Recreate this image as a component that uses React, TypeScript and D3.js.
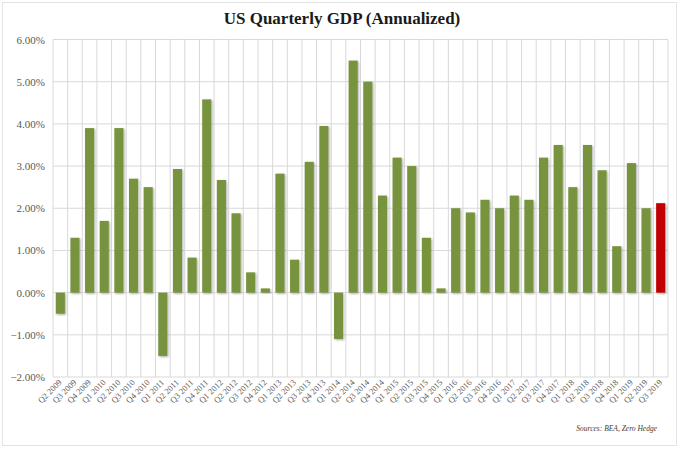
import React from "react";
import * as d3 from "d3";

const quarters: string[] = [
  "Q2 2009", "Q3 2009", "Q4 2009",
  "Q1 2010", "Q2 2010", "Q3 2010", "Q4 2010",
  "Q1 2011", "Q2 2011", "Q3 2011", "Q4 2011",
  "Q1 2012", "Q2 2012", "Q3 2012", "Q4 2012",
  "Q1 2013", "Q2 2013", "Q3 2013", "Q4 2013",
  "Q1 2014", "Q2 2014", "Q3 2014", "Q4 2014",
  "Q1 2015", "Q2 2015", "Q3 2015", "Q4 2015",
  "Q1 2016", "Q2 2016", "Q3 2016", "Q4 2016",
  "Q1 2017", "Q2 2017", "Q3 2017", "Q4 2017",
  "Q1 2018", "Q2 2018", "Q3 2018", "Q4 2018",
  "Q1 2019", "Q2 2019", "Q3 2019",
];

const gdp: number[] = [
  -0.5, 1.3, 3.9,
  1.7, 3.9, 2.7, 2.5,
  -1.5, 2.93, 0.83, 4.58,
  2.67, 1.88, 0.48, 0.1,
  2.82, 0.78, 3.1, 3.95,
  -1.1, 5.5, 5.0, 2.3,
  3.2, 3.0, 1.3, 0.1,
  2.0, 1.9, 2.2, 2.0,
  2.3, 2.2, 3.2, 3.5,
  2.5, 3.5, 2.9, 1.1,
  3.07, 2.0, 2.12,
];

const yTicks: number[] = [6, 5, 4, 3, 2, 1, 0, -1, -2];

const title = "US Quarterly GDP (Annualized)";
const source = "Sources: BEA, Zero Hedge";

const W = 680;
const H = 451;
const plot = { left: 53, right: 668, top: 39.5, bottom: 377 };
const GREEN = "#77933C";
const RED = "#C00000";
const GRID = "#D9D9D9";
const LABEL = "#595959";
const SERIF = "'Liberation Serif', 'Times New Roman', serif";

export default function App() {
  const x = d3.scaleBand<string>().domain(quarters).range([plot.left, plot.right]).padding(0);
  const y = d3.scaleLinear().domain([-2, 6]).range([plot.bottom, plot.top]);
  const bw = x.bandwidth() * 0.62;
  const fmt = d3.format(".2f");

  return (
    <svg width={W} height={H} style={{ position: "absolute", left: 0, top: 0 }}>
      <defs>
        <filter id="shadow" x="-30%" y="-10%" width="160%" height="120%">
          <feGaussianBlur in="SourceAlpha" stdDeviation="0.8" />
          <feOffset dx="1.2" dy="1.2" result="ob" />
          <feComponentTransfer>
            <feFuncA type="linear" slope="0.35" />
          </feComponentTransfer>
          <feMerge>
            <feMergeNode />
            <feMergeNode in="SourceGraphic" />
          </feMerge>
        </filter>
      </defs>
      <rect x={0} y={0} width={W} height={H} fill="#fff" />
      <rect x={2.5} y={2.5} width={674} height={443} fill="none" stroke="#E3E3E3" strokeWidth={1} />
      <text x={342} y={24} textAnchor="middle" fontFamily={SERIF} fontWeight="bold" fontSize={17} fill="#1a1a1a">
        {title}
      </text>
      {yTicks.map((t) => (
        <line key={"h" + t} x1={plot.left} x2={plot.right} y1={y(t)} y2={y(t)} stroke={GRID} strokeWidth={1} />
      ))}
      {quarters.map((q) => (
        <line key={"v" + q} x1={x(q)!} x2={x(q)!} y1={plot.top} y2={plot.bottom} stroke={GRID} strokeWidth={1} />
      ))}
      <line x1={plot.right} x2={plot.right} y1={plot.top} y2={plot.bottom} stroke={GRID} strokeWidth={1} />
      {yTicks.map((t) => (
        <text key={"yl" + t} x={45} y={y(t) + 4} textAnchor="end" fontFamily={SERIF} fontSize={11} fill={LABEL}>
          {fmt(t) + "%"}
        </text>
      ))}
      {quarters.map((q, i) => {
        const v = gdp[i];
        const cx = x(q)! + x.bandwidth() / 2;
        const y0 = y(Math.max(0, v));
        const y1 = y(Math.min(0, v));
        return (
          <rect
            key={"b" + q}
            x={cx - bw / 2}
            y={y0}
            width={bw}
            height={Math.max(0.5, y1 - y0)}
            fill={i === quarters.length - 1 ? RED : GREEN}
            filter="url(#shadow)"
          />
        );
      })}
      {quarters.map((q) => {
        const cx = x(q)! + x.bandwidth() / 2 + 2;
        const ty = plot.bottom + 6;
        return (
          <text
            key={"xl" + q}
            transform={`translate(${cx},${ty}) rotate(-45)`}
            textAnchor="end"
            fontFamily={SERIF}
            fontSize={8.5}
            fill={LABEL}
          >
            {q}
          </text>
        );
      })}
      <text x={657} y={431} textAnchor="end" fontFamily={SERIF} fontStyle="italic" fontSize={7.5} fill="#404040">
        {source}
      </text>
    </svg>
  );
}
